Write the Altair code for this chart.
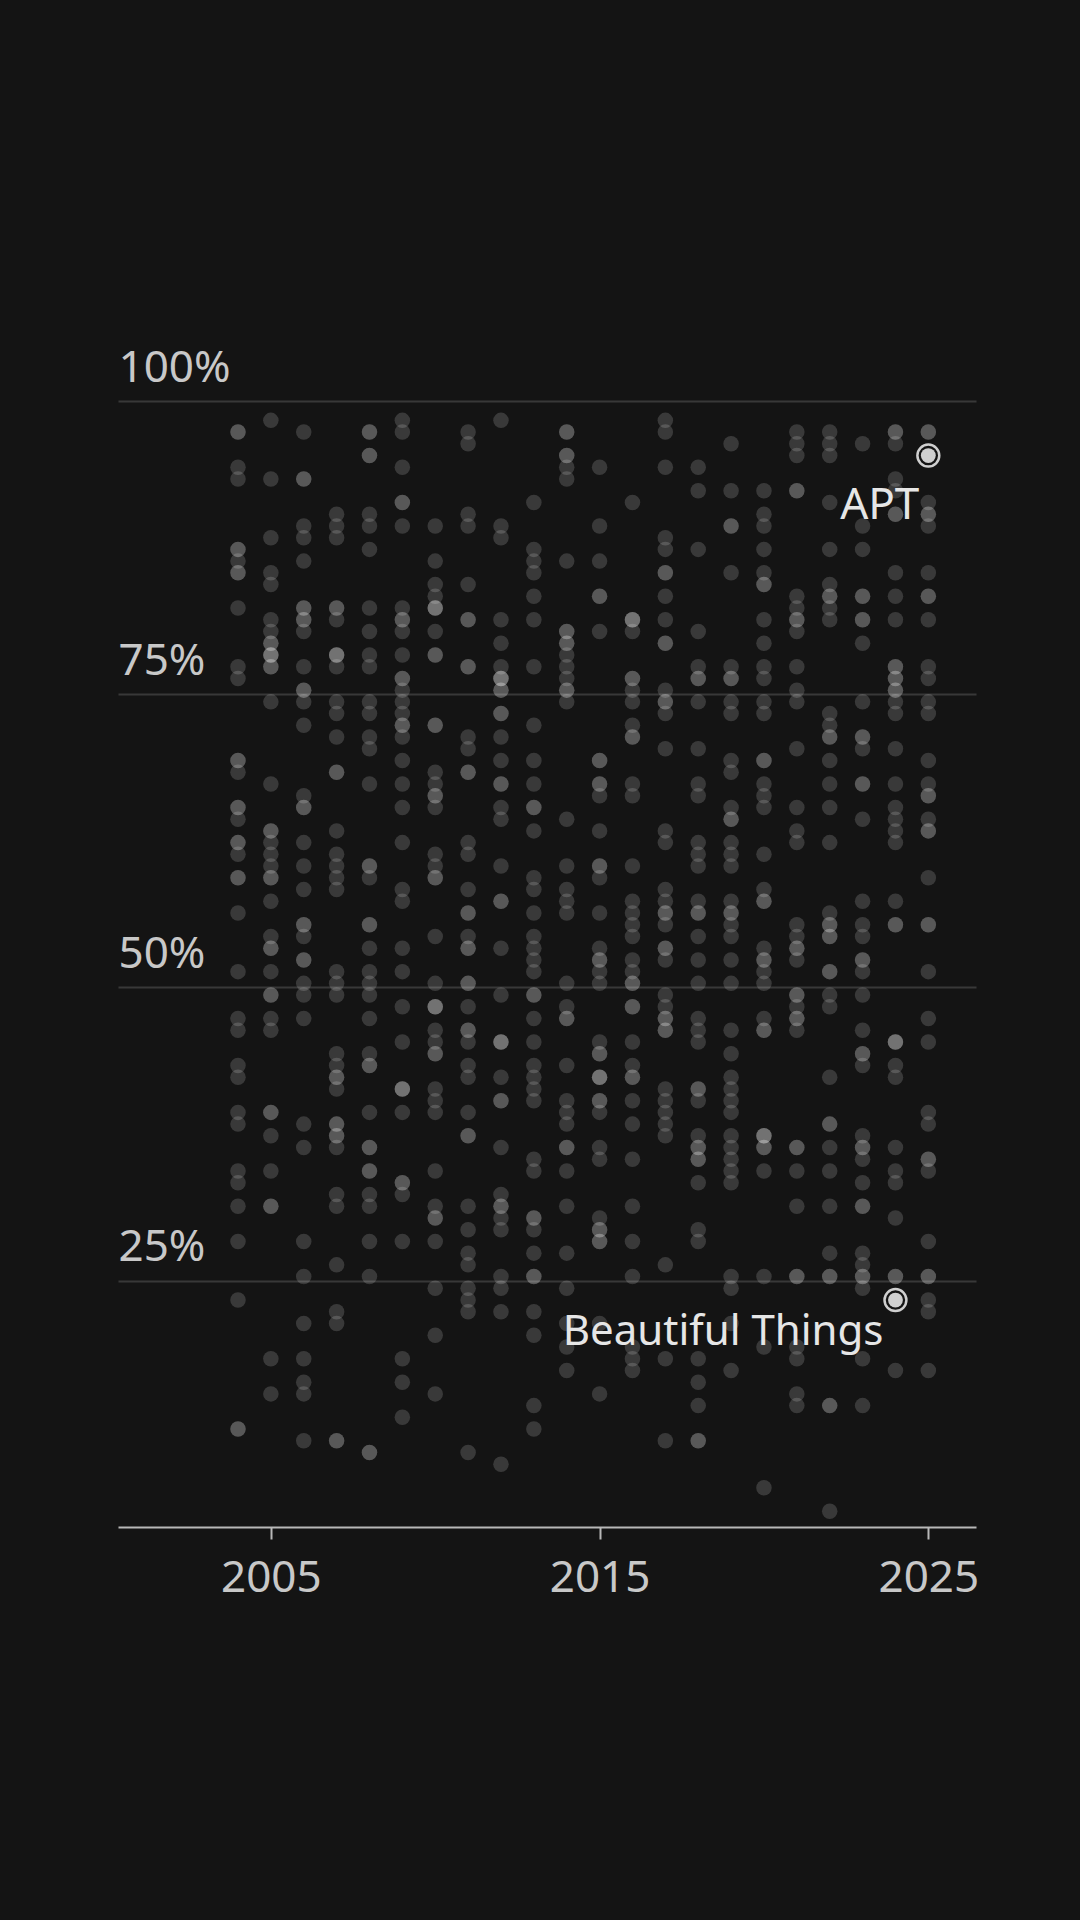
import altair as alt
import pandas as pd

# ---------------- data (percent levels) ----------------
years = list(range(2004, 2026))

v2004 = [97, 97, 94, 93, 87, 87, 86, 85, 85, 82, 77, 76, 69, 69, 68,
         65, 65, 64, 62, 62, 61, 59, 59, 56, 51, 47, 46, 43, 42, 39, 38,
         34, 33, 31, 28, 23, 12, 12]
v2005 = [98, 93, 88, 85, 84, 81, 80, 79, 79, 78, 78, 78, 77, 77, 74,
         67, 63, 63, 62, 61, 60, 59, 59, 57, 54, 53, 53, 51, 49, 49, 47, 46, 39, 39, 37,
         34, 31, 31, 18, 15]
v2006 = [97, 93, 93, 89, 88, 86, 82, 82, 81, 81, 80, 77, 75, 75, 74, 72,
         66, 65, 65, 62, 60, 58, 55, 55, 54, 52, 52, 50, 49, 47, 38, 36,
         28, 25, 21, 18, 16, 15, 11]
v2007 = [90, 89, 88, 82, 82, 81, 78, 78, 78, 77, 74, 73, 71, 68, 68,
         63, 61, 60, 59, 58, 51, 50, 49, 44, 43, 42, 42, 41, 38, 38, 37, 37, 36,
         32, 31, 26, 22, 21, 11, 11]
v2008 = [97, 97, 95, 95, 90, 89, 87, 82, 80, 78, 77, 74, 73, 71, 70,
         67, 60, 60, 59, 55, 55, 53, 51, 50, 49, 47, 44, 43, 43, 39, 36, 36,
         34, 34, 32, 31, 28, 25, 10, 10]
v2009 = [98, 97, 94, 91, 91, 89, 82, 81, 81, 80, 78, 76, 76, 75, 74, 73, 72, 72, 71, 69,
         67, 65, 62, 58, 57, 53, 51, 48, 45, 41, 41, 41, 39,
         33, 33, 32, 28, 18, 16, 13]
v2010 = [89, 86, 84, 83, 82, 82, 82, 80, 78, 78, 72, 72, 68,
         67, 66, 66, 65, 61, 60, 59, 59, 54, 50, 48, 48, 48, 46, 45, 44, 44, 41, 40, 39,
         34, 31, 30, 30, 28, 24, 20, 15]
v2011 = [97, 96, 90, 89, 84, 81, 81, 77, 77, 71, 70, 68, 68,
         62, 61, 58, 56, 56, 54, 53, 53, 50, 50, 48, 46, 46, 45, 43, 42, 39, 37, 37,
         31, 29, 27, 26, 24, 23, 22, 10]
v2012 = [98, 89, 88, 81, 79, 77, 76, 76, 76, 75, 75, 73, 73, 71, 69,
         67, 67, 65, 64, 60, 57, 57, 53, 49, 45, 45, 45, 42, 40, 40, 36,
         32, 31, 31, 30, 29, 25, 24, 22, 9]
v2013 = [91, 87, 86, 85, 83, 81, 77, 72, 69,
         67, 65, 65, 63, 59, 58, 56, 54, 53, 52, 51, 49, 49, 47, 45, 43, 42, 41, 40,
         35, 34, 30, 30, 29, 27, 25, 25, 22, 20, 14, 12]
v2014 = [97, 97, 95, 95, 94, 93, 86, 80, 80, 79, 79, 78, 77, 76, 75, 75, 74,
         64, 60, 58, 57, 56, 50, 48, 47, 47, 43, 40, 39, 38, 36, 36,
         34, 31, 27, 24, 21, 19, 17]
v2015 = [94, 89, 86, 83, 83, 80, 69, 69,
         67, 67, 66, 63, 60, 60, 59, 56, 53, 52, 52, 51, 50, 45, 44, 44, 42, 42, 42, 40, 40, 39, 36,
         35, 30, 29, 29, 28, 28, 21, 15]
v2016 = [91, 81, 81, 81, 80, 76, 76, 75, 74, 72, 71, 71,
         67, 66, 60, 57, 56, 55, 54, 52, 51, 50, 50, 48, 48, 45, 43, 42, 42, 40, 38,
         35, 31, 28, 25, 19, 18, 17]
v2017 = [98, 97, 94, 88, 87, 85, 85, 83, 81, 79, 79, 75, 74, 74, 73, 70,
         63, 62, 58, 57, 56, 56, 55, 53, 53, 52, 49, 48, 47, 47, 46, 46, 41, 40, 39, 38, 37,
         26, 18, 11]
v2018 = [94, 92, 87, 80, 77, 76, 76, 74, 70,
         67, 66, 62, 61, 60, 57, 56, 56, 54, 52, 50, 47, 46, 45, 41, 41, 40, 37, 36, 36,
         35, 35, 33, 29, 28, 18, 16, 14, 11, 11]
v2019 = [96, 92, 89, 89, 85, 77, 76, 76, 74, 73, 69, 68,
         65, 64, 64, 62, 61, 60, 57, 56, 56, 55, 54, 52, 50, 46, 44, 42, 41, 40, 39, 37, 36,
         35, 34, 33, 25, 24, 21, 17]
v2020 = [92, 90, 89, 87, 85, 84, 84, 81, 79, 77, 76, 74, 73, 69, 69,
         67, 66, 65, 61, 58, 57, 57, 53, 52, 52, 51, 50, 47, 46, 46, 37, 37, 37, 36, 36,
         34, 25, 19, 7]
v2021 = [97, 96, 95, 92, 92, 83, 82, 81, 81, 80, 77, 75, 74, 70,
         65, 63, 62, 55, 54, 53, 53, 52, 49, 49, 48, 47, 47, 46, 36, 36,
         34, 31, 25, 25, 19, 18, 15, 14]
v2022 = [97, 96, 95, 91, 87, 84, 83, 83, 82, 81, 73, 72, 71, 71, 69,
         67, 65, 62, 56, 55, 55, 54, 54, 51, 51, 49, 48, 42, 38, 38, 36,
         34, 31, 27, 25, 25, 14, 14, 5]
v2023 = [96, 89, 87, 83, 83, 81, 81, 79, 74, 71, 71, 70,
         67, 67, 64, 57, 55, 54, 52, 52, 51, 49, 46, 44, 44, 43, 37, 36, 36,
         35, 33, 31, 31, 27, 26, 25, 25, 24, 18, 14]
v2024 = [97, 97, 96, 93, 92, 90, 90, 85, 83, 81, 77, 77, 76, 76, 75, 75, 74, 73, 70,
         67, 65, 64, 63, 62, 57, 55, 55, 45, 45, 45, 43, 42, 36,
         34, 33, 30, 25, 25, 17]
v2025 = [97, 97, 91, 90, 90, 89, 85, 83, 83, 81, 77, 76, 74, 73, 69,
         67, 66, 66, 64, 63, 63, 59, 55, 55, 51, 47, 45, 39, 38,
         35, 35, 34, 28, 25, 25, 23, 22, 17]

values_by_year = [v2004, v2005, v2006, v2007, v2008, v2009, v2010, v2011,
                  v2012, v2013, v2014, v2015, v2016, v2017, v2018, v2019,
                  v2020, v2021, v2022, v2023, v2024, v2025]

highlight_years = [2025, 2024]
highlight_values = [95, 23]
highlight_labels = ["APT", "Beautiful Things"]

y_ticks = [25, 50, 75, 100]
x_ticks = [2005, 2015, 2025]

# ---------------- tables ----------------
df = pd.DataFrame(
    [{"year": y, "share": v} for y, vals in zip(years, values_by_year) for v in vals]
)
hdf = pd.DataFrame(
    {"year": highlight_years, "share": highlight_values, "label": highlight_labels}
)

FONT = "Noto Sans"
BG = "#141414"
DOT_SHIFT = -4.1

x_enc = alt.X(
    "year:Q",
    scale=alt.Scale(domain=[2000.35, 2026.45], nice=False, zero=False),
    title=None,
    axis=alt.Axis(values=x_ticks, format="d", grid=False,
                  domainColor="#b8b8b8", domainWidth=2,
                  tickColor="#b8b8b8", tickWidth=2, tickSize=12,
                  labelColor="#c8c8c8", labelFont=FONT, labelFontSize=44,
                  labelPadding=17, labelFlush=False),
)
y_enc = alt.Y(
    "share:Q",
    scale=alt.Scale(domain=[4, 100], nice=False, zero=False),
    title=None,
    axis=alt.Axis(values=y_ticks, labelExpr="datum.value + '%'",
                  orient="left", ticks=False, domain=False,
                  grid=True, gridColor="#383838", gridWidth=2,
                  labelAlign="left", labelBaseline="alphabetic",
                  labelPadding=0, labelOffset=-20, labelFlush=False,
                  labelColor="#c8c8c8", labelFont=FONT, labelFontSize=44),
)

dots = alt.Chart(df).mark_circle(
    color="#ffffff", opacity=0.16, size=240, yOffset=DOT_SHIFT
).encode(x=x_enc, y=y_enc)

hi_base = alt.Chart(hdf).encode(x=x_enc, y=y_enc)
hi_dot = hi_base.mark_circle(color="#cfcfcf", opacity=1, size=220, yOffset=DOT_SHIFT)
hi_ring = hi_base.mark_point(shape="circle", filled=False, color="#cfcfcf",
                             strokeWidth=2.5, size=480, opacity=1, yOffset=DOT_SHIFT)

lab_apt = hi_base.transform_filter(alt.datum.label == "APT").mark_text(
    align="right", baseline="alphabetic", dx=-9, dy=59,
    font=FONT, fontSize=44, color="#e6e6e6"
).encode(text="label:N")
lab_bt = hi_base.transform_filter(alt.datum.label == "Beautiful Things").mark_text(
    align="right", baseline="alphabetic", dx=-12, dy=41,
    font=FONT, fontSize=42, color="#e6e6e6"
).encode(text="label:N")

chart = alt.layer(dots, hi_dot, hi_ring, lab_apt, lab_bt).properties(
    width=858, height=1126,
    background=BG,
    autosize=alt.AutoSizeParams(type="none"),
    padding={"left": 110, "top": 393, "right": 90, "bottom": 380},
).configure_view(stroke=None)

chart.save("out.html", embed_options={"renderer": "svg", "actions": False,
                                      "defaultStyle": "body{background:#141414;}"})
